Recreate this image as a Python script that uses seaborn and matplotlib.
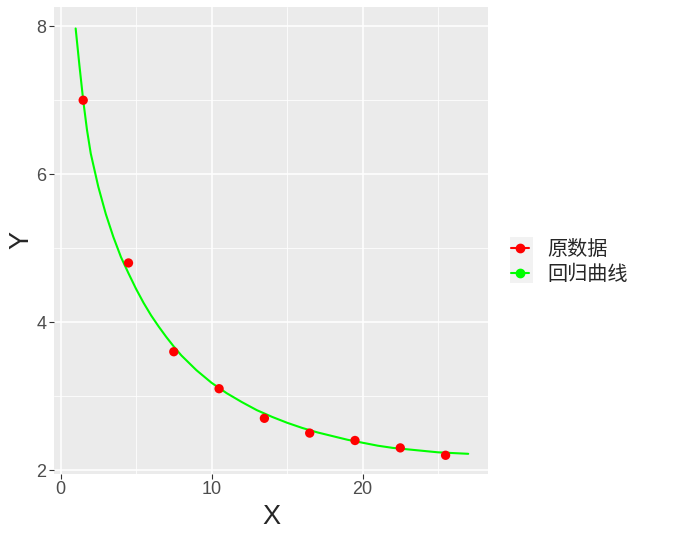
import seaborn as sns
import matplotlib.pyplot as plt
import pandas as pd
from matplotlib.lines import Line2D
from matplotlib.patches import Rectangle
from matplotlib.ticker import MultipleLocator

# observed points
x_obs = [1.5, 4.5, 7.5, 10.5, 13.5, 16.5, 19.5, 22.5, 25.5]
y_obs = [7.0, 4.8, 3.6, 3.1, 2.7, 2.5, 2.4, 2.3, 2.2]

# fitted curve
x_fit = [1.0, 1.25, 1.5, 1.75, 2.0, 2.5, 3.0, 3.5, 4.0, 4.5, 5.0, 5.5, 6.0, 6.5,
         7.0, 7.5, 8.0, 9.0, 10.0, 11.0, 12.0, 13.0, 14.0, 15.0, 16.0, 17.0,
         18.0, 19.0, 20.0, 21.0, 22.0, 23.0, 24.0, 25.0, 26.0, 27.0]
y_fit = [7.97, 7.47, 7.00, 6.60, 6.28, 5.83, 5.46, 5.15, 4.88, 4.66, 4.45, 4.26,
         4.09, 3.94, 3.80, 3.67, 3.55, 3.35, 3.18, 3.04, 2.92, 2.81, 2.72, 2.64,
         2.57, 2.51, 2.46, 2.41, 2.37, 2.33, 2.30, 2.28, 2.26, 2.24, 2.23, 2.22]

labels = ["原数据", "回归曲线"]

sns.set_theme(style="darkgrid", rc={"axes.facecolor": "#EBEBEB", "grid.color": "white"})
plt.rcParams['font.family'] = ['Liberation Sans', 'Noto Sans CJK SC', 'DejaVu Sans']

fig = plt.figure(figsize=(6.93, 5.39), dpi=100)
ax = fig.add_axes([0.078, 0.121, 0.626, 0.866])

df_obs = pd.DataFrame({"X": x_obs, "Y": y_obs})
df_fit = pd.DataFrame({"X": x_fit, "Y": y_fit})
sns.lineplot(data=df_fit, x="X", y="Y", ax=ax, color="#00FF00", linewidth=1.5, zorder=3)
sns.scatterplot(data=df_obs, x="X", y="Y", ax=ax, color="red", s=45, edgecolor="none", zorder=4)

ax.set_xlim(-0.43, 28.3)
ax.set_ylim(1.95, 8.26)
ax.xaxis.set_major_locator(MultipleLocator(10))
ax.xaxis.set_minor_locator(MultipleLocator(5))
ax.yaxis.set_major_locator(MultipleLocator(2))
ax.yaxis.set_minor_locator(MultipleLocator(1))
ax.grid(which="major", color="white", linewidth=1.1)
ax.grid(which="minor", color="white", linewidth=0.55)
ax.tick_params(which="major", length=3.5, width=0.8, color="#333333", labelsize=13,
               labelcolor="#4D4D4D", pad=2, bottom=True, left=True)
ax.tick_params(which="minor", length=0, bottom=False, left=False)
for s in ax.spines.values():
    s.set_visible(False)
ax.set_xlabel("X", fontsize=19.5, labelpad=4)
ax.set_ylabel("Y", fontsize=19.5, labelpad=1, rotation=90)

handles = [Line2D([], [], color="red", marker="o", markersize=6, linewidth=1.5),
           Line2D([], [], color="#00FF00", marker="o", markersize=6, linewidth=1.5)]
fig.patches.append(Rectangle((510 / 693, 1 - 283 / 539), 23 / 693, 46 / 539,
                             transform=fig.transFigure, facecolor="#F2F2F2",
                             edgecolor="none", zorder=0))
fig.legend(handles, labels, loc="center left", bbox_to_anchor=(0.737, 0.514),
           frameon=False, handlelength=0.9, handletextpad=0.9,
           labelspacing=0.2, borderaxespad=0, borderpad=0,
           prop={"family": ["Noto Sans CJK SC"], "size": 14.5})

fig.savefig("out.png", dpi=100)
